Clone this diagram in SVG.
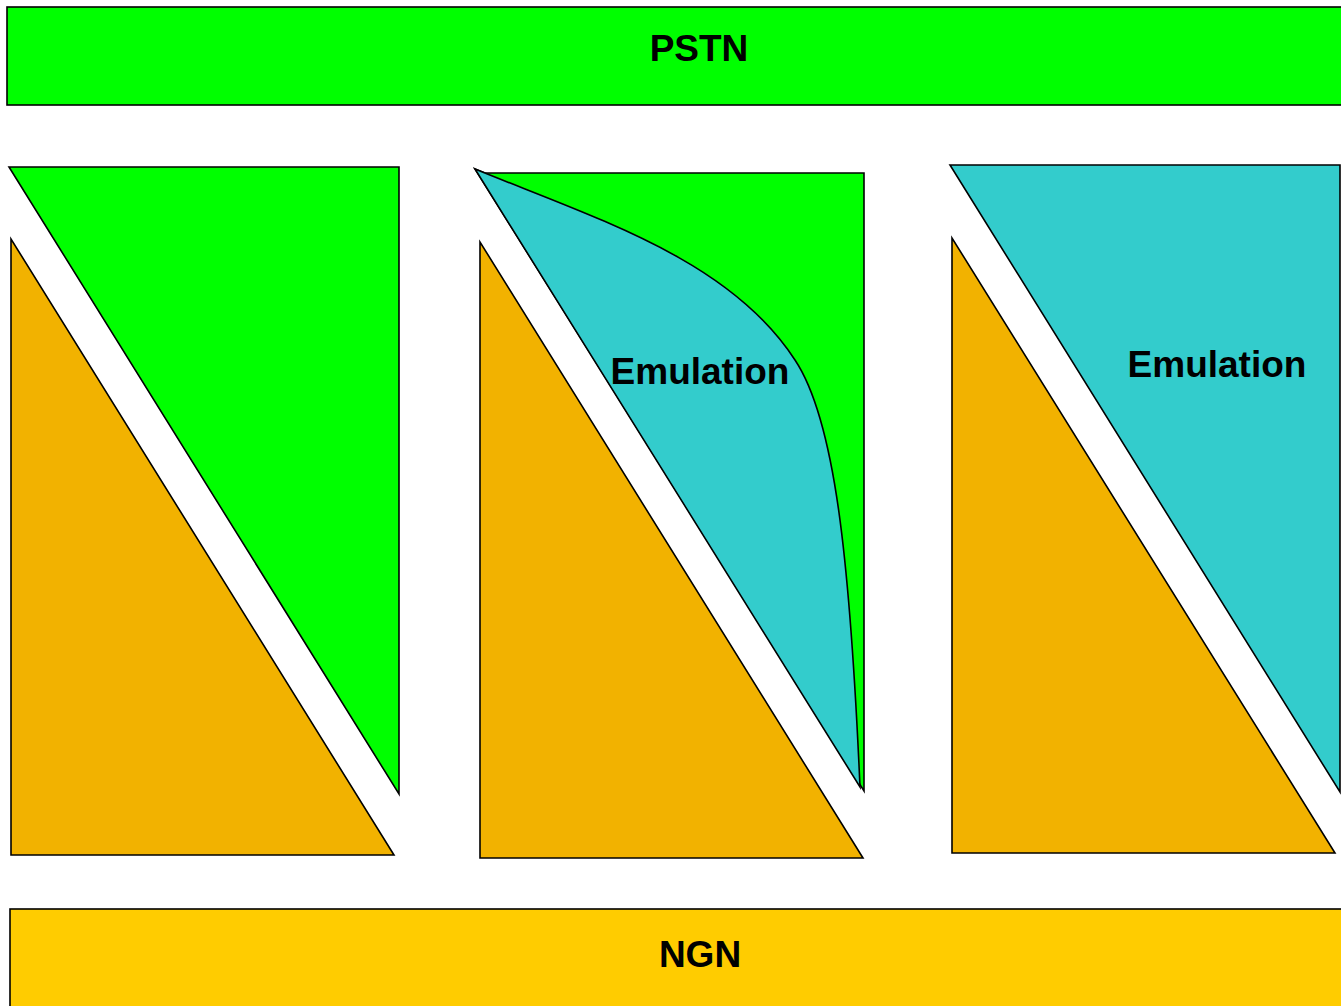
<svg xmlns="http://www.w3.org/2000/svg" width="1341" height="1006" viewBox="0 0 1341 1006">
<style>
.s{stroke:#000;stroke-width:1.6;stroke-linejoin:miter}
.g{fill:#00FF00}
.o{fill:#F2B200}
.c{fill:#33CCCC}
.y{fill:#FFCC00}
text{font-family:"Liberation Sans",Arial,sans-serif;font-weight:bold;fill:#000;text-anchor:middle;font-size:37px}
</style>
<rect width="1341" height="1006" fill="#fff"/>
<g id="pstn"><rect class="s g" x="7" y="7" width="1340" height="98"/><text x="699" y="61">PSTN</text></g>
<g id="ngn"><rect class="s y" x="10" y="909" width="1340" height="110"/><text x="700" y="967">NGN</text></g>
<g id="left-green"><polygon class="s g" points="9,167 399,167 399,794"/></g>
<g id="left-orange"><polygon class="s o" points="11,239 11,855 394,855"/></g>
<g id="mid-green"><polygon class="s g" points="475,169 485,173 864,173 864,791"/></g>
<g id="mid-emulation"><path class="s c" d="M475,169 L860,787 C850,560 835,420 795,360 C730,260 600,220 475,169 Z"/><text x="700" y="384">Emulation</text></g>
<g id="mid-orange"><polygon class="s o" points="480,242 480,858 863,858"/></g>
<g id="right-emulation"><polygon class="s c" points="950,165 1340,165 1340,792"/><text x="1217" y="377">Emulation</text></g>
<g id="right-orange"><polygon class="s o" points="952,238 952,853 1335,853"/></g>
<g id="connectors"></g>
</svg>
